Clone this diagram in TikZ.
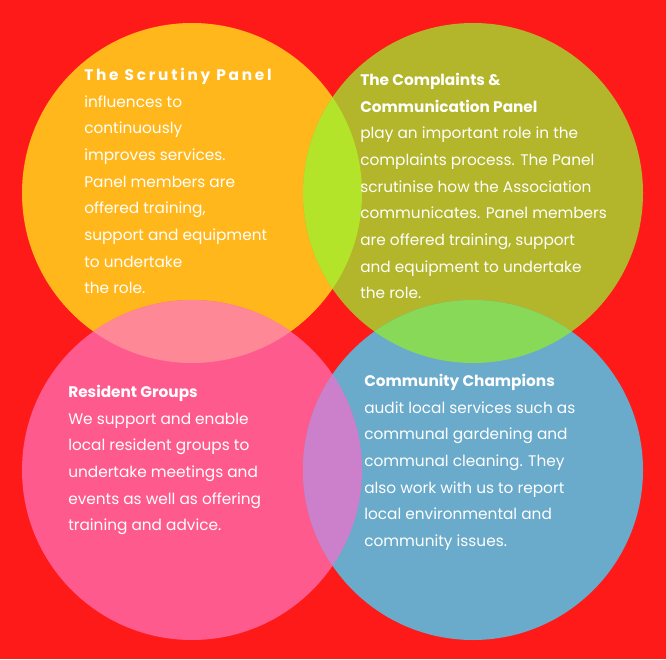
\documentclass[tikz,border=0pt]{standalone}
\usepackage{fontspec}
\setmainfont{Poppins}
\begin{document}
\definecolor{bgred}{HTML}{FF1A1A}
\definecolor{scrut}{HTML}{FFB71B}
\definecolor{compl}{HTML}{B3B52A}
\definecolor{resid}{HTML}{FF5A8E}
\definecolor{champ}{HTML}{6AAACB}
\definecolor{lensa}{HTML}{B4E42A}
\definecolor{lensb}{HTML}{FF8896}
\definecolor{lensc}{HTML}{88D958}
\definecolor{lensd}{HTML}{CC80CC}
\begin{tikzpicture}[x=0.75pt,y=-0.75pt]
\tikzset{every node/.style={text=white, font=\fontsize{11.5}{20}\selectfont},
  paneltext/.style={anchor=north west, align=left, inner sep=0pt}}
\fill[bgred] (0,0) rectangle (666,659);
\useasboundingbox (0,0) rectangle (666,659);
% circles
\fill[scrut] (192,193) circle (170);
\fill[compl] (473,193) circle (170);
\fill[resid] (192,470) circle (170);
\fill[champ] (473,470) circle (170);
% overlaps
\begin{scope}\clip (192,193) circle (170); \fill[lensa] (473,193) circle (170); \end{scope}
\begin{scope}\clip (192,193) circle (170); \fill[lensb] (192,470) circle (170); \end{scope}
\begin{scope}\clip (473,193) circle (170); \fill[lensc] (473,470) circle (170); \end{scope}
\begin{scope}\clip (192,470) circle (170); \fill[lensd] (473,470) circle (170); \end{scope}
% texts
\node[paneltext] (scrutiny) at (84,68) {\addfontfeature{LetterSpace=18}\textbf{The Scrutiny Panel}\\
influences to\\ continuously\\ improves services.\\ Panel members are\\ offered training,\\
support and equipment\\ to undertake\\ the role.};
\node[paneltext] (complaints) at (360,73) {\textbf{The Complaints \&}\\ \textbf{Communication Panel}\\
play an important role in the\\ complaints process. The Panel\\ scrutinise how the Association\\
communicates. Panel members\\ are offered training, support\\ and equipment to undertake\\ the role.};
\node[paneltext] (resident) at (68,385) {\textbf{Resident Groups}\\ We support and enable\\
local resident groups to\\ undertake meetings and\\ events as well as offering\\ training and advice.};
\node[paneltext] (champions) at (364,374) {\textbf{Community Champions}\\ audit local services such as\\
communal gardening and\\ communal cleaning. They\\ also work with us to report\\ local environmental and\\ community issues.};
\end{tikzpicture}
\end{document}
